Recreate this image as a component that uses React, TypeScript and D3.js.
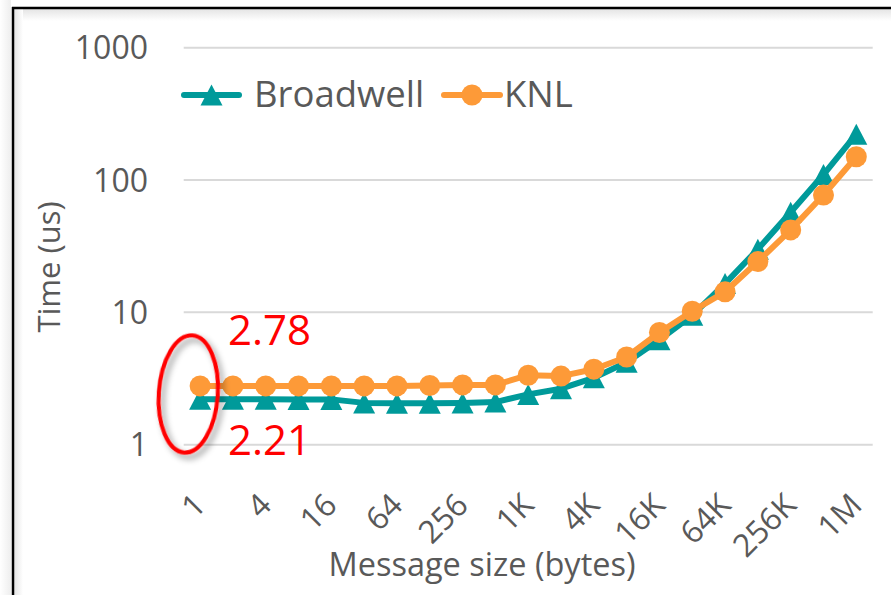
import React from "react";
import * as d3 from "d3";

const categories = ["1","2","4","8","16","32","64","128","256","512","1K","2K","4K","8K","16K","32K","64K","128K","256K","512K","1M"];
const broadwell = [2.21, 2.21, 2.21, 2.2, 2.2, 2.07, 2.06, 2.06, 2.07, 2.1, 2.4, 2.65, 3.2, 4.2, 6.2, 9.5, 16.5, 30, 57, 110, 222];
const knl = [2.78, 2.78, 2.78, 2.78, 2.78, 2.78, 2.78, 2.8, 2.83, 2.83, 3.35, 3.3, 3.72, 4.6, 7.05, 10.2, 14.3, 24.2, 42, 77, 150];
const xTickLabels = ["1","4","16","64","256","1K","4K","16K","64K","256K","1M"];
const yTicks = [1, 10, 100, 1000];
const seriesNames = ["Broadwell", "KNL"];
const annotations = ["2.78", "2.21"];

const W = 891, H = 595;
const TEAL = "#009A9A";
const ORANGE = "#FD9A38";
const TEXT = "#595959";
const FONT = "'Open Sans', sans-serif";

export default function App() {
  const x = d3.scaleBand<string>().domain(categories).range([183.7, 872.7]).padding(0);
  const y = d3.scaleLog().domain([1, 1000]).range([444.7, 47.7]);
  const cx = (c: string) => (x(c) as number) + x.bandwidth() / 2;

  const line = d3.line<number>().x((_, i) => cx(categories[i])).y((d) => y(d));

  const tri = (px: number, py: number, w = 22, h = 21) =>
    `M${px},${py - h / 2}L${px + w / 2},${py + h / 2}L${px - w / 2},${py + h / 2}Z`;

  return (
    <svg width={W} height={H} style={{ position: "absolute", left: 0, top: 0, background: "#fff" }} fontFamily={FONT}>
      <defs>
        <linearGradient id="topShade" x1="0" y1="0" x2="0" y2="1">
          <stop offset="0" stopColor="#E4E4E4" />
          <stop offset="1" stopColor="#FFFFFF" />
        </linearGradient>
        <linearGradient id="leftShade" x1="0" y1="0" x2="1" y2="0">
          <stop offset="0" stopColor="#E4E4E4" />
          <stop offset="1" stopColor="#FFFFFF" />
        </linearGradient>
        <linearGradient id="outShade" x1="0" y1="0" x2="1" y2="0">
          <stop offset="0" stopColor="#FFFFFF" />
          <stop offset="1" stopColor="#EEEEEE" />
        </linearGradient>
        <filter id="shadow" x="-50%" y="-50%" width="200%" height="200%">
          <feDropShadow dx="4" dy="4" stdDeviation="3" floodColor="#000" floodOpacity="0.4" />
        </filter>
      </defs>
      <rect x={0} y={0} width={W} height={H} fill="#fff" />
      {/* frame */}
      <rect x={0} y={0} width={11} height={H} fill="url(#outShade)" />
      <rect x={14} y={9} width={W - 14} height={12} fill="url(#topShade)" />
      <rect x={14} y={9} width={9} height={H - 9} fill="url(#leftShade)" />
      <line x1={13} y1={7} x2={13} y2={H} stroke="#000" strokeWidth={2.5} />
      <line x1={12} y1={8} x2={W} y2={8} stroke="#000" strokeWidth={2.5} />

      {/* gridlines */}
      {yTicks.map((t) => (
        <line key={t} x1={183.7} x2={872.7} y1={y(t)} y2={y(t)} stroke="#D9D9D9" strokeWidth={2} />
      ))}
      {/* y tick labels */}
      {yTicks.map((t) => (
        <text key={t} x={148} y={y(t) + 11.5} textAnchor="end" fontSize={32} fill={TEXT}>
          {String(t)}
        </text>
      ))}
      {/* x tick labels */}
      {xTickLabels.map((l) => (
        <text key={l} transform={`translate(${cx(l) + 7.5},${507}) rotate(-45)`} textAnchor="end" fontSize={31.5} fill={TEXT}>
          {l}
        </text>
      ))}
      {/* axis titles */}
      <text x={482} y={576} textAnchor="middle" fontSize={32.5} fill={TEXT}>Message size (bytes)</text>
      <text transform={`translate(60,267) rotate(-90)`} textAnchor="middle" fontSize={31} fill={TEXT}>Time (us)</text>

      {/* Broadwell series */}
      <path d={line(broadwell) as string} fill="none" stroke={TEAL} strokeWidth={6} strokeLinejoin="round" />
      {broadwell.map((v, i) => (
        <path key={i} d={tri(cx(categories[i]), y(v))} fill={TEAL} />
      ))}
      {/* KNL series */}
      <path d={line(knl) as string} fill="none" stroke={ORANGE} strokeWidth={6} strokeLinejoin="round" />
      {knl.map((v, i) => (
        <circle key={i} cx={cx(categories[i])} cy={y(v)} r={10.5} fill={ORANGE} />
      ))}

      {/* legend */}
      <line x1={184} x2={239} y1={95} y2={95} stroke={TEAL} strokeWidth={6} strokeLinecap="round" />
      <path d={tri(211.5, 95)} fill={TEAL} />
      <text x={254} y={107.3} fontSize={36.5} fill={TEXT}>{seriesNames[0]}</text>
      <line x1={444} x2={500} y1={95} y2={95} stroke={ORANGE} strokeWidth={6} strokeLinecap="round" />
      <circle cx={472} cy={95} r={10.5} fill={ORANGE} />
      <text x={504} y={107.3} fontSize={36.5} fill={TEXT}>{seriesNames[1]}</text>

      {/* annotations */}
      <ellipse cx={188.3} cy={394} rx={29.5} ry={58.7} transform="rotate(4,188.3,394)" fill="none" stroke="#FF0000" strokeWidth={4} filter="url(#shadow)" />
      <text x={228} y={345} fontSize={42} fill="#FF0000">{annotations[0]}</text>
      <text x={228} y={455} fontSize={42} fill="#FF0000">{annotations[1]}</text>
    </svg>
  );
}
